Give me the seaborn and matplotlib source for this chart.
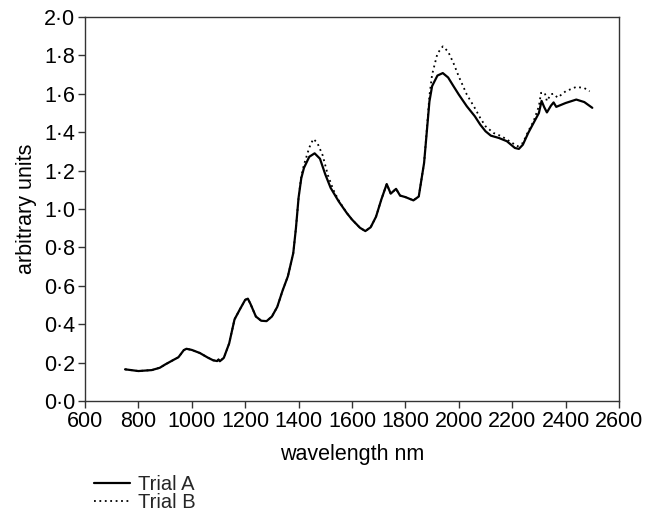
import matplotlib
matplotlib.use("Agg")
import matplotlib.pyplot as plt
from matplotlib.ticker import FuncFormatter, MultipleLocator
import seaborn as sns
import pandas as pd

# ---- data ----
wl_a = [750, 800, 850, 880, 900, 930, 950, 970, 980, 1000, 1030, 1060, 1080, 1095, 1100, 1105,
        1120, 1140, 1160, 1180, 1200, 1210, 1220, 1240, 1260, 1280, 1300, 1320, 1340, 1360, 1380,
        1390, 1400, 1410, 1420, 1440, 1460, 1480, 1500, 1520, 1550, 1580, 1600, 1630, 1650, 1670,
        1690, 1710, 1730, 1745, 1765, 1780, 1800, 1830, 1850, 1870, 1880, 1890, 1900, 1920, 1940,
        1960, 1980, 2000, 2030, 2060, 2080, 2100, 2120, 2150, 2180, 2210, 2225, 2240, 2260, 2280,
        2300, 2310, 2320, 2330, 2345, 2355, 2365, 2400, 2440, 2470, 2500]
trial_a = [0.165, 0.156, 0.161, 0.173, 0.19, 0.213, 0.228, 0.265, 0.272, 0.266, 0.25, 0.226, 0.212,
           0.208, 0.216, 0.207, 0.225, 0.30, 0.425, 0.477, 0.527, 0.533, 0.505, 0.44, 0.418, 0.416,
           0.44, 0.49, 0.575, 0.65, 0.77, 0.9, 1.06, 1.16, 1.214, 1.272, 1.29, 1.262, 1.18, 1.11,
           1.04, 0.98, 0.945, 0.902, 0.885, 0.905, 0.96, 1.05, 1.13, 1.08, 1.105, 1.07, 1.062, 1.045,
           1.065, 1.24, 1.40, 1.56, 1.64, 1.695, 1.708, 1.685, 1.64, 1.596, 1.535, 1.483, 1.44,
           1.405, 1.382, 1.37, 1.353, 1.318, 1.313, 1.335, 1.396, 1.448, 1.50, 1.563, 1.53, 1.503,
           1.538, 1.555, 1.532, 1.552, 1.57, 1.557, 1.527]

wl_b = [750, 800, 850, 880, 900, 930, 950, 970, 980, 1000, 1030, 1060, 1080, 1095, 1100, 1105,
        1120, 1140, 1160, 1180, 1200, 1210, 1220, 1240, 1260, 1280, 1300, 1320, 1340, 1360, 1380,
        1390, 1400, 1410, 1420, 1440, 1455, 1470, 1490, 1510, 1530, 1550, 1580, 1600, 1630, 1650,
        1670, 1690, 1710, 1730, 1745, 1765, 1780, 1800, 1830, 1850, 1870, 1880, 1890, 1900, 1920,
        1940, 1960, 1980, 2000, 2030, 2060, 2080, 2100, 2130, 2160, 2190, 2220, 2240, 2260, 2280,
        2300, 2308, 2322, 2330, 2345, 2355, 2370, 2400, 2440, 2470, 2490]
trial_b = [0.165, 0.156, 0.161, 0.173, 0.19, 0.213, 0.228, 0.265, 0.272, 0.266, 0.25, 0.226, 0.212,
           0.208, 0.216, 0.207, 0.225, 0.30, 0.425, 0.477, 0.527, 0.533, 0.505, 0.44, 0.418, 0.416,
           0.44, 0.49, 0.575, 0.65, 0.77, 0.9, 1.06, 1.17, 1.23, 1.32, 1.365, 1.345, 1.28, 1.175,
           1.10, 1.045, 0.98, 0.945, 0.902, 0.885, 0.905, 0.96, 1.05, 1.13, 1.08, 1.105, 1.07,
           1.062, 1.045, 1.065, 1.24, 1.41, 1.59, 1.70, 1.81, 1.847, 1.82, 1.76, 1.69, 1.596,
           1.526, 1.475, 1.431, 1.396, 1.379, 1.353, 1.327, 1.344, 1.405, 1.457, 1.535, 1.605,
           1.605, 1.562, 1.598, 1.60, 1.58, 1.613, 1.636, 1.63, 1.613]

series_names = ["Trial A", "Trial B"]
x_ticks = [600, 800, 1000, 1200, 1400, 1600, 1800, 2000, 2200, 2400, 2600]

sns.set_theme(style="white")
plt.rcParams["font.family"] = ["Liberation Sans", "DejaVu Sans"]
FS = 15.5

fig = plt.figure(figsize=(6.45, 5.11), dpi=100)
ax = fig.add_axes([85 / 645, 1 - 401 / 511, (619 - 85) / 645, (401 - 17) / 511])

df_a = pd.DataFrame({"wavelength": wl_a, "value": trial_a})
df_b = pd.DataFrame({"wavelength": wl_b, "value": trial_b})
sns.lineplot(data=df_a, x="wavelength", y="value", ax=ax, color="black", lw=1.6,
             label=series_names[0], legend=False)
sns.lineplot(data=df_b, x="wavelength", y="value", ax=ax, color="black", lw=1.3,
             linestyle=(0, (1, 2)), label=series_names[1], legend=False)

ax.set_xlim(600, 2600)
ax.set_ylim(0, 2.0)
ax.set_xticks(x_ticks)
ax.yaxis.set_major_locator(MultipleLocator(0.2))
ax.yaxis.set_major_formatter(FuncFormatter(lambda v, p: f"{v:.1f}".replace(".", "\u00b7")))
ax.xaxis.set_major_formatter(FuncFormatter(lambda v, p: f"{int(round(v))}"))

for s in ax.spines.values():
    s.set_visible(True)
    s.set_color("#333333")
    s.set_linewidth(1.0)
ax.tick_params(axis="both", which="major", direction="out", length=5, width=1.0,
               color="#333333", labelsize=FS, labelcolor="black", pad=2,
               bottom=True, left=True, top=False, right=False)

ax.set_xlabel("wavelength nm", fontsize=FS, color="black", labelpad=9)
ax.set_ylabel("arbitrary units", fontsize=FS, color="black", labelpad=5)
ax.grid(False)

handles, labels = ax.get_legend_handles_labels()
fig.legend(handles, labels, loc="upper left", bbox_to_anchor=(94 / 645, 1 - 475 / 511),
           frameon=False, fontsize=14.5, handlelength=1.8, handletextpad=0.4,
           labelspacing=-0.05, borderpad=0, borderaxespad=0)

fig.savefig("out.png", dpi=100)
